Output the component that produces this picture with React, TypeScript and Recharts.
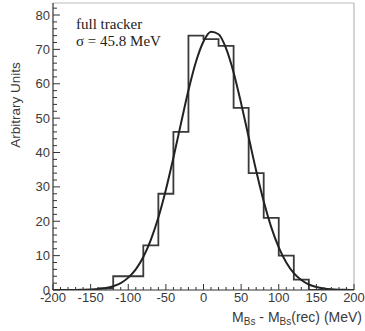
import React from 'react';
import {
  ComposedChart,
  Line,
  XAxis,
  YAxis,
  ReferenceLine
} from 'recharts';

// histogram: left edge of each 20 MeV bin and its content
const binEdges = [-200, -180, -160, -140, -120, -100, -80, -60, -40, -20, 0, 20, 40, 60, 80, 100, 120, 140, 160, 180, 200];
const binCounts = [0, 0, 0, 0.5, 4, 4, 13, 28, 46, 74, 73, 71, 53, 34, 21, 10, 3, 0, 0, 0, 0];

// gaussian fit curve, every 10 MeV
const fitX = [-200, -190, -180, -170, -160, -150, -140, -130, -120, -110, -100, -90, -80, -70, -60, -50, -40, -30, -20, -10, 0, 10, 20, 30, 40, 50, 60, 70, 80, 90, 100, 110, 120, 130, 140, 150, 160, 170, 180, 190, 200];
const fitY = [0, 0, 0, 0.02, 0.06, 0.13, 0.28, 0.58, 1.1, 2.0, 3.6, 6.0, 9.6, 14.6, 21.1, 29.2, 38.5, 48.4, 58.1, 66.4, 72.3, 75.1, 74.4, 70.3, 63.3, 54.3, 44.5, 34.7, 25.8, 18.3, 12.4, 8.0, 4.9, 2.9, 1.6, 0.86, 0.44, 0.2, 0.09, 0.04, 0.02];

const xTicks = [-200, -190, -180, -170, -160, -150, -140, -130, -120, -110, -100, -90, -80, -70, -60, -50, -40, -30, -20, -10, 0, 10, 20, 30, 40, 50, 60, 70, 80, 90, 100, 110, 120, 130, 140, 150, 160, 170, 180, 190, 200];
const yTicks = [0, 2, 4, 6, 8, 10, 12, 14, 16, 18, 20, 22, 24, 26, 28, 30, 32, 34, 36, 38, 40, 42, 44, 46, 48, 50, 52, 54, 56, 58, 60, 62, 64, 66, 68, 70, 72, 74, 76, 78, 80, 82];

const histData = binEdges.map((x, i) => ({ x, count: binCounts[i] }));
const fitData = fitX.map((x, i) => ({ x, fit: fitY[i] }));

const AXIS = '#333';
const LABEL = '#3a3a3a';
const SANS = '"Liberation Sans", Arial, sans-serif';

const XTick = (props: any) => {
  const { x, y, payload } = props;
  const major = payload.value % 50 === 0;
  return (
    <g>
      <line x1={x} x2={x} y1={y} y2={y - (major ? 6 : 3)} stroke={AXIS} strokeWidth={1} />
      {major && (
        <text x={x} y={y + 12} textAnchor="middle" fontSize={13} fontFamily={SANS} fill={LABEL}>
          {payload.value}
        </text>
      )}
    </g>
  );
};

const YTick = (props: any) => {
  const { x, y, payload } = props;
  const major = payload.value % 10 === 0;
  const ax = x + 3;
  return (
    <g>
      <line x1={ax} x2={ax + (major ? 7 : 4)} y1={y} y2={y} stroke={AXIS} strokeWidth={1} />
      {major && (
        <text x={x} y={y} dy="0.35em" textAnchor="end" fontSize={13} fontFamily={SANS} fill={LABEL}>
          {payload.value}
        </text>
      )}
    </g>
  );
};

const subStyle: React.CSSProperties = { fontSize: 10, verticalAlign: '-3px', lineHeight: 0 };

export default function App() {
  return (
    <div style={{ position: 'absolute', left: 0, top: 0, width: 365, height: 331, background: '#fff', overflow: 'hidden' }}>
      <ComposedChart width={365} height={331} margin={{ top: 3, right: 11, bottom: 40, left: 52 }}>
        <XAxis
          type="number"
          dataKey="x"
          domain={[-200, 200]}
          ticks={xTicks}
          interval={0}
          allowDataOverflow
          height={1}
          tickSize={0}
          tickMargin={0}
          tickLine={false}
          axisLine={{ stroke: AXIS, strokeWidth: 1.2 }}
          tick={(p: any) => <XTick {...p} />}
        />
        <YAxis
          type="number"
          domain={[0, 83.5]}
          ticks={yTicks}
          interval={0}
          allowDataOverflow
          width={1}
          tickSize={0}
          tickMargin={3}
          tickLine={false}
          axisLine={{ stroke: AXIS, strokeWidth: 1.2 }}
          tick={(p: any) => <YTick {...p} />}
        />
        <ReferenceLine y={83.5} stroke="#bbb" strokeWidth={1} ifOverflow="visible" />
        <ReferenceLine x={200} stroke="#aaa" strokeWidth={1} ifOverflow="visible" />
        <Line
          data={histData}
          dataKey="count"
          type="stepAfter"
          stroke="#3a3a3a"
          strokeWidth={1.8}
          dot={false}
          isAnimationActive={false}
        />
        <Line
          data={fitData}
          dataKey="fit"
          type="monotone"
          stroke="#222"
          strokeWidth={2}
          dot={false}
          isAnimationActive={false}
        />
      </ComposedChart>

      <div
        style={{
          position: 'absolute',
          left: 76,
          top: 16,
          fontFamily: '"Liberation Serif", "Times New Roman", serif',
          fontSize: 15,
          lineHeight: '17px',
          color: '#222'
        }}
      >
        <div>full tracker</div>
        <div>σ = 45.8 MeV</div>
      </div>

      <div
        style={{
          position: 'absolute',
          right: 3,
          top: 309,
          fontFamily: SANS,
          fontSize: 14,
          lineHeight: '16px',
          color: LABEL,
          whiteSpace: 'nowrap'
        }}
      >
        M<span style={subStyle}>Bs</span> - M<span style={subStyle}>Bs</span>(rec) (MeV)
      </div>

      <div
        style={{
          position: 'absolute',
          left: 15,
          top: 105,
          transform: 'translate(-50%, -50%) rotate(-90deg)',
          fontFamily: SANS,
          fontSize: 13.5,
          color: LABEL,
          whiteSpace: 'nowrap'
        }}
      >
        Arbitrary Units
      </div>
    </div>
  );
}
